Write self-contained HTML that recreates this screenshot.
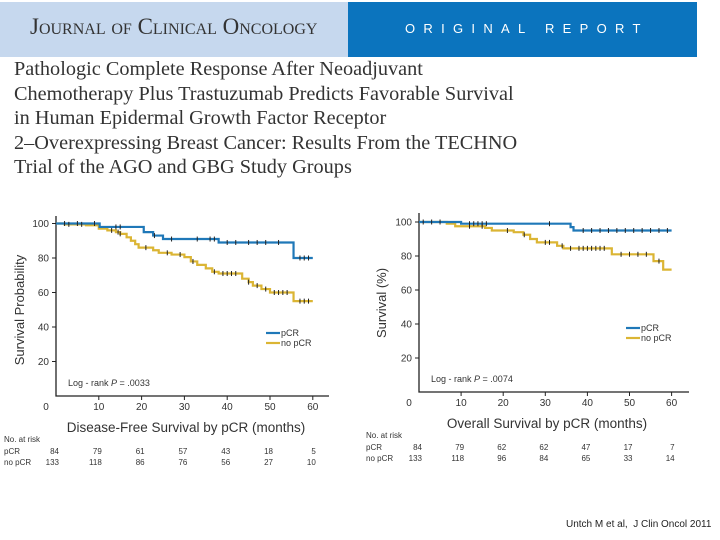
<!DOCTYPE html>
<html><head><meta charset="utf-8">
<style>
html,body{margin:0;padding:0;background:#fff;}
#root{position:relative;width:720px;height:540px;overflow:hidden;background:#fff;font-family:"Liberation Sans",sans-serif;}
.hdr-l{position:absolute;left:0;top:2px;width:348px;height:55px;background:#c6d8ee;}
.hdr-r{position:absolute;left:348px;top:2px;width:349px;height:55px;background:#0b74be;}
.jco{position:absolute;left:30px;top:14px;font-family:"Liberation Serif",serif;font-size:23px;color:#333;font-variant:small-caps;letter-spacing:0px;}
.orig{position:absolute;left:405px;top:21px;font-size:13px;color:#fff;letter-spacing:8.3px;}
.title{position:absolute;left:14px;top:57px;font-family:"Liberation Serif",serif;font-size:20.3px;line-height:24.5px;color:#333;}
.foot{position:absolute;left:566px;top:519px;font-size:10px;color:#222;}
svg text{font-family:"Liberation Sans",sans-serif;}
</style></head>
<body>
<div id="root">
<div class="hdr-l"></div>
<div class="hdr-r"></div>
<div class="jco">Journal of Clinical Oncology</div>
<div class="orig">ORIGINAL REPORT</div>
<div class="title">Pathologic Complete Response After Neoadjuvant<br>Chemotherapy Plus Trastuzumab Predicts Favorable Survival<br>in Human Epidermal Growth Factor Receptor<br>2–Overexpressing Breast Cancer: Results From the TECHNO<br>Trial of the AGO and GBG Study Groups</div>
<svg id="chart" width="720" height="540" style="position:absolute;left:0;top:0"></svg>
<div class="foot">Untch M et al,&nbsp; J Clin Oncol 2011</div>
</div>
<script>
// DFS chart data
const dfsPcrT = [0,10.2,20.5,22.7,25,38,55.5,60];
const dfsPcrS = [100,98,95,93,91,89,80,80];
const dfsNoT = [0,2,7,10,12,14,15,16.5,17.5,18.5,19.3,22.7,24,27,30,31.5,33,35,36.5,38,43.5,45,46,48,50,55.5,60];
const dfsNoS = [100,99.5,99,97,96,95,94,92,90,88,86,84.5,83,82,80.5,78,76,74,72,71,68,66,64,62,60,55,55];
const dfsPcrCens = [2,5,9,14,15,23,27,33,36,37,40,42,45,47,49,52,57,58,59];
const dfsNoCens = [3,6,13,14.5,15,21,26,29,32,37,39,40,41,42,45,47,49,51,52,53,54,57,58,59];
const dfsRiskPcr = [84,79,61,57,43,18,5];
const dfsRiskNo = [133,118,86,76,56,27,10];
// OS chart data
const osPcrT = [0,10,36,36.7,60];
const osPcrS = [100,99,97,95,95];
const osNoT = [0,6.6,8.6,15.7,17.3,22.5,24.8,26.4,28,32.8,34.3,45.8,55.7,58,60];
const osNoS = [100,99,97.5,96.5,95,94,92.5,90,88,86,84.5,81,77,72,72];
const osPcrCens = [1,3,5,12,13,14,15,16,31,39,41,43,45,47,49,51,53,55,57,59];
const osNoCens = [12,15,21,25,30,31,34,36,38,39,40,41,42,43,44,48,50,52,54,57];
const osRiskPcr = [84,79,62,62,47,17,7];
const osRiskNo = [133,118,96,84,65,33,14];
const xTicks = [0,10,20,30,40,50,60];
const yTicks = [20,40,60,80,100];

const svg = document.getElementById('chart');
const NS = 'http://www.w3.org/2000/svg';
function mk(tag, attrs, parent){const e=document.createElementNS(NS,tag);for(const k in attrs)e.setAttribute(k,attrs[k]);(parent||svg).appendChild(e);return e;}
function txt(x,y,s,size,anchor,fill,parent){const t=mk('text',{x:x,y:y,'font-size':size,'text-anchor':anchor||'start',fill:fill||'#333'},parent);t.textContent=s;return t;}

function drawChart(cfg){
  const g = mk('g',{});
  
  
  const X = m => cfg.x0 + m*cfg.xs;
  const Y = v => cfg.y0 - v*cfg.ys;
  const ax = mk('path',{d:`M${cfg.x0},${cfg.yTop} V${cfg.y0} H${cfg.xEnd}`,stroke:'#222','stroke-width':1.3,fill:'none'},g);
  
  
  yTicks.forEach(v=>{
    mk('line',{x1:cfg.x0-4,x2:cfg.x0,y1:Y(v),y2:Y(v),stroke:'#222','stroke-width':1},g);
    const t=txt(cfg.x0-7,Y(v)+3.5,String(v),10,'end','#333',g);
    
    
  });
  xTicks.forEach(m=>{
    if(m>0) mk('line',{x1:X(m),x2:X(m),y1:cfg.y0,y2:cfg.y0+4,stroke:'#222','stroke-width':1},g);
    const t=txt(m===0?cfg.x0-10:X(m),cfg.y0+14,String(m),10,'middle','#333',g);
    
    
  });
  function step(T,S,color,name){
    let d=`M${X(T[0])},${Y(S[0])}`;
    for(let i=1;i<T.length;i++){d+=` H${X(T[i])} V${Y(S[i])}`;}
    const p=mk('path',{d:d,stroke:color,'stroke-width':2.2,fill:'none'},g);
    
    
  }
  function sAt(T,S,m){let v=S[0];for(let i=0;i<T.length;i++){if(T[i]<=m)v=S[i];}return v;}
  function cens(T,S,C,name){
    C.forEach(m=>{
      const l=mk('line',{x1:X(m),x2:X(m),y1:Y(sAt(T,S,m))-2.5,y2:Y(sAt(T,S,m))+2.5,stroke:'#222','stroke-width':1},g);
      
      
    });
  }
  step(cfg.noT,cfg.noS,'#dbb534','no-pcr-curve');
  step(cfg.pT,cfg.pS,'#1f78b8','pcr-curve');
  cens(cfg.noT,cfg.noS,cfg.noC,'no-pcr-censor-mark');
  cens(cfg.pT,cfg.pS,cfg.pC,'pcr-censor-mark');
  const lg=mk('g',{},g);
  
  
  mk('line',{x1:cfg.lx,x2:cfg.lx+14,y1:cfg.ly,y2:cfg.ly,stroke:'#1f78b8','stroke-width':2.2},lg);
  mk('line',{x1:cfg.lx,x2:cfg.lx+14,y1:cfg.ly+10,y2:cfg.ly+10,stroke:'#dbb534','stroke-width':2.2},lg);
  txt(cfg.lx+15,cfg.ly+3,'pCR',9,'start','#333',lg);
  txt(cfg.lx+15,cfg.ly+13,'no pCR',9,'start','#333',lg);
  const pv=mk('text',{x:cfg.x0+12,y:cfg.y0-10,'font-size':9,fill:'#333'},g);
  pv.innerHTML='Log - rank <tspan font-style="italic">P</tspan> = '+cfg.p;
  
  
  const xt=txt(cfg.xtx,cfg.y0+36,cfg.xTitle,13.5,'middle','#333',g);
  
  
  const yt=mk('text',{x:0,y:0,'font-size':13,'text-anchor':'middle',fill:'#333',transform:`translate(${cfg.ytx},${cfg.yty}) rotate(-90)`},g);
  yt.textContent=cfg.yTitle;
  
  
  const rt=mk('g',{},g);
  
  
  txt(cfg.rlx,cfg.ry,'No. at risk',8,'start','#333',rt);
  txt(cfg.rlx,cfg.ry+12,'pCR',8,'start','#333',rt);
  txt(cfg.rlx,cfg.ry+23,'no pCR',8,'start','#333',rt);
  xTicks.forEach((m,i)=>{
    txt(X(m)+3,cfg.ry+12,String(cfg.rP[i]),8,'end','#333',rt);
    txt(X(m)+3,cfg.ry+23,String(cfg.rN[i]),8,'end','#333',rt);
  });
}
drawChart({name:'dfs-chart',x0:56,xs:4.28,y0:396,ys:1.725,yTop:216,xEnd:329,
  pT:dfsPcrT,pS:dfsPcrS,noT:dfsNoT,noS:dfsNoS,pC:dfsPcrCens,noC:dfsNoCens,
  lx:266,ly:333,p:'.0033',xTitle:'Disease-Free Survival by pCR (months)',xtx:186,
  yTitle:'Survival Probability',ytx:24,yty:310,rlx:4,ry:442,rP:dfsRiskPcr,rN:dfsRiskNo});
drawChart({name:'os-chart',x0:419,xs:4.21,y0:392,ys:1.7,yTop:213,xEnd:689,
  pT:osPcrT,pS:osPcrS,noT:osNoT,noS:osNoS,pC:osPcrCens,noC:osNoCens,
  lx:626,ly:328,p:'.0074',xTitle:'Overall Survival by pCR (months)',xtx:547,
  yTitle:'Survival (%)',ytx:386,yty:303,rlx:366,ry:438,rP:osRiskPcr,rN:osRiskNo});
</script>
</body></html>
